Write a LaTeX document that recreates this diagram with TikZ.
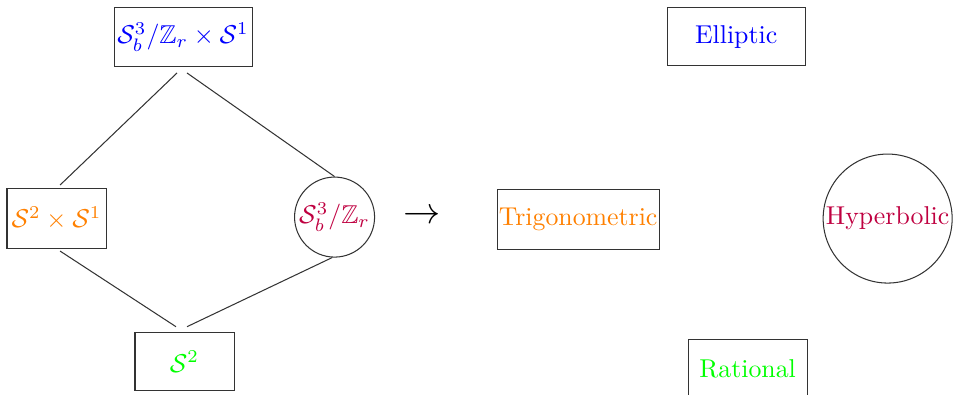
\documentclass[tikz,border=0pt]{standalone}
\usepackage{amssymb}
\begin{document}
\begin{tikzpicture}[
  box/.style={draw=black!80,rectangle,inner sep=0pt,minimum height=0.8cm},
  ring/.style={draw=black!80,circle,inner sep=0pt},
  link/.style={black!80}]
\useasboundingbox (0,0) rectangle (12.98,5.368);
% left: the geometries
\node[box,minimum width=1.88cm,text=blue] (top) at (2.493,4.863) {\(\mathcal{S}^3_b/\mathbb{Z}_r\times\mathcal{S}^1\)};
\node[box,minimum width=1.349cm,minimum height=0.817cm,text=orange] (left) at (0.770,2.391) {\(\mathcal{S}^2\times\mathcal{S}^1\)};
\node[ring,minimum size=1.09cm,text=purple] (circ) at (4.557,2.411) {\(\mathcal{S}^3_b/\mathbb{Z}_r\)};
\node[box,minimum width=1.349cm,text=green] (bottom) at (2.513,0.443) {\(\mathcal{S}^2\)};
\draw[link] ([xshift=-0.082cm,yshift=-0.082cm]top.south) -- ([xshift=0.048cm,yshift=0.041cm]left.north);
\draw[link] ([xshift=0.054cm,yshift=-0.082cm]top.south) -- (circ.north);
\draw[link] ([xshift=0.048cm,yshift=-0.027cm]left.south) -- ([xshift=-0.116cm,yshift=0.068cm]bottom.north);
\draw[link] ([xshift=0.034cm,yshift=0.068cm]bottom.north) -- ([xshift=-0.034cm]circ.south);
\node[font=\Large] (map) at (5.742,2.411) {\(\to\)};
% right: the functions
\node[box,minimum width=2.207cm,minimum height=0.817cm,text=orange] (trig) at (7.874,2.384) {Trigonometric};
\node[box,minimum width=1.88cm,text=blue] (ell) at (10.027,4.870) {Elliptic};
\node[ring,minimum size=1.757cm,text=purple] (hyp) at (12.090,2.391) {Hyperbolic};
\node[box,minimum width=1.621cm,text=green] (rat) at (10.183,0.35) {Rational};
\end{tikzpicture}
\end{document}
